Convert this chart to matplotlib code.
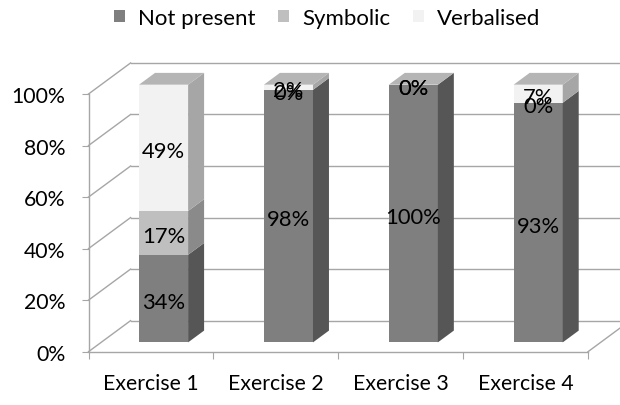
import matplotlib.pyplot as plt
from matplotlib.patches import Polygon, Patch
from matplotlib.ticker import PercentFormatter

categories = ["Exercise 1", "Exercise 2", "Exercise 3", "Exercise 4"]
series_names = ["Not present", "Symbolic", "Verbalised"]
not_present = [34, 98, 100, 93]
symbolic = [17, 0, 0, 0]
verbalised = [49, 2, 0, 7]
y_ticks = [0, 20, 40, 60, 80, 100]

series_values = [not_present, symbolic, verbalised]
front_colors = ["#7f7f7f", "#bfbfbf", "#f2f2f2"]
side_colors = ["#565656", "#8a8a8a", "#a6a6a6"]
top_colors = ["#9a9a9a", "#b0b0b0", "#b5b5b5"]
grid_color = "#a6a6a6"
fs = 15.3

plt.rcParams["font.family"] = ["Lato", "DejaVu Sans"]

W, H = 620, 406
fig = plt.figure(figsize=(W / 100, H / 100), dpi=100)
ax = fig.add_axes([88.5 / W, (H - 352.7) / H, (588 - 88.5) / W, (352.7 - 95) / H])
n = len(categories)
ax.set_xlim(0, n)
ax.set_ylim(0, 100)
for s in ax.spines.values():
    s.set_visible(False)

# oblique depth direction of the 3-D box (data units)
DX, DY = 0.337, 12.05

# walls and floor
lk = dict(color=grid_color, lw=1.0, clip_on=False, zorder=1)
for t in y_ticks:
    ax.plot([0, DX], [t, t + DY], **lk)
    ax.plot([DX, n + DX + 0.2], [t + DY, t + DY], **lk)
ax.plot([0, 0], [0, 100], **lk)
ax.plot([0, n], [0, 0], **lk)
ax.plot([n, n + DX], [0, DY], **lk)

# bars as oblique boxes
bar_w = 0.393
f0, fd = 0.30, 0.38
ox, oy = f0 * DX, f0 * DY
bx, by = fd * DX, fd * DY
for i in range(n):
    x0 = i + 0.5 - bar_w / 2 + ox
    base = 0.0
    for k, vals in enumerate(series_values):
        v = vals[i]
        y0 = base + oy
        front = Polygon([(x0, y0), (x0 + bar_w, y0), (x0 + bar_w, y0 + v), (x0, y0 + v)],
                        closed=True, facecolor=front_colors[k], edgecolor="none",
                        clip_on=False, zorder=3)
        side = Polygon([(x0 + bar_w, y0), (x0 + bar_w + bx, y0 + by),
                        (x0 + bar_w + bx, y0 + v + by), (x0 + bar_w, y0 + v)],
                       closed=True, facecolor=side_colors[k], edgecolor="none",
                       clip_on=False, zorder=3)
        ax.add_patch(front)
        ax.add_patch(side)
        if k == len(series_values) - 1:
            yt = y0 + v
            top = Polygon([(x0, yt), (x0 + bar_w, yt), (x0 + bar_w + bx, yt + by), (x0 + bx, yt + by)],
                          closed=True, facecolor=top_colors[k], edgecolor="none",
                          clip_on=False, zorder=3)
            ax.add_patch(top)
        ax.text(x0 + bar_w / 2, y0 + v / 2 - 1.2, f"{v}%", ha="center", va="center",
                fontsize=fs + 0.5, color="black", zorder=5)
        base += v

# axes ticks and labels
ax.set_yticks(y_ticks)
ax.yaxis.set_major_formatter(PercentFormatter(decimals=0))
ax.tick_params(axis="y", length=4.7, width=0.8, color=grid_color, pad=12, labelsize=fs)
ax.set_xticks(range(n + 1))
ax.set_xticklabels([])
ax.set_xticks([i + 0.5 for i in range(n)], minor=True)
ax.set_xticklabels(categories, minor=True)
ax.tick_params(axis="x", which="major", length=5, width=0.8, color=grid_color)
ax.tick_params(axis="x", which="minor", length=0, pad=15, labelsize=fs)

handles = [Patch(facecolor=c, edgecolor="none") for c in front_colors]
fig.legend(handles, series_names, loc="center", bbox_to_anchor=(327 / W, 1 - 19 / H), ncol=3,
           frameon=False, fontsize=16, handlelength=0.5, handleheight=0.5,
           handletextpad=0.6, columnspacing=1.0)

fig.savefig("out.png", dpi=100)
